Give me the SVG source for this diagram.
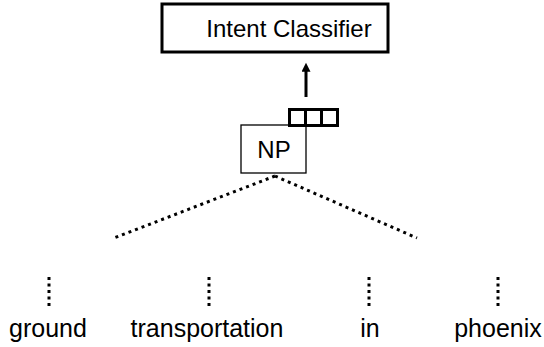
<svg xmlns="http://www.w3.org/2000/svg" width="544" height="347" viewBox="0 0 544 347">
<defs>
<style>
text{font-family:"Liberation Sans",Arial,sans-serif;font-size:24px;fill:#000;text-anchor:middle}
.w{font-size:25px}
.dot{stroke:#000;stroke-width:3;fill:none;stroke-dasharray:3 4}
.vdot{stroke:#000;stroke-width:3;fill:none;stroke-dasharray:3 3.5}
</style>
<marker id="ah" viewBox="0 0 10 10" refX="2" refY="5" markerWidth="10" markerHeight="9" markerUnits="userSpaceOnUse" orient="auto"><path d="M0,0 L10,5 L0,10 Z" fill="#000"/></marker>
</defs>
<rect width="544" height="347" fill="#fff"/>
<g id="intent-classifier">
<rect x="162" y="4" width="226" height="48" fill="#fff" stroke="#000" stroke-width="3"/>
<text x="289" y="37">Intent Classifier</text>
</g>
<g id="np">
<rect x="241" y="125" width="65" height="48" fill="#fff" stroke="#000" stroke-width="1.3"/>
<text x="274" y="158">NP</text>
</g>
<g id="vector">
<rect x="289.5" y="109.5" width="16" height="16" fill="#fff" stroke="#000" stroke-width="3"/>
<rect x="305.5" y="109.5" width="16" height="16" fill="#fff" stroke="#000" stroke-width="3"/>
<rect x="321.5" y="109.5" width="16" height="16" fill="#fff" stroke="#000" stroke-width="3"/>
</g>
<g id="words">
<text class="w" x="48" y="337">ground</text>
<text class="w" x="207" y="337">transportation</text>
<text class="w" x="370" y="337">in</text>
<text class="w" x="498" y="337">phoenix</text>
</g>
<g id="connectors">
<line x1="306" y1="97" x2="306" y2="70" stroke="#000" stroke-width="3" marker-end="url(#ah)"/>
<line class="dot" x1="275" y1="176" x2="114" y2="238"/>
<line class="dot" x1="275" y1="176" x2="417" y2="238"/>
<line class="vdot" x1="49" y1="277" x2="49" y2="306"/>
<line class="vdot" x1="209" y1="277" x2="209" y2="306"/>
<line class="vdot" x1="369" y1="277" x2="369" y2="306"/>
<line class="vdot" x1="498" y1="277" x2="498" y2="306"/>
</g>
</svg>
